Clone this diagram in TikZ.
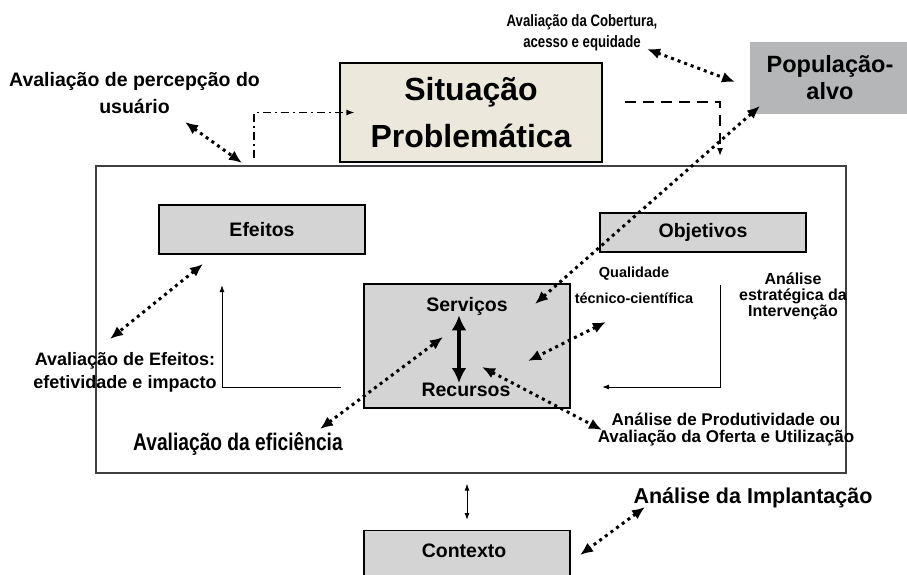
\documentclass[tikz,border=0pt]{standalone}
\usepackage{fontspec}
\setmainfont{Liberation Sans}
\newfontfamily\condfont{Liberation Sans}[FakeStretch=0.8]
\usetikzlibrary{arrows.meta}
\definecolor{sitfill}{RGB}{236,233,220}
\definecolor{popfill}{RGB}{180,182,184}
\definecolor{boxfill}{RGB}{212,212,212}
\newcommand\tightlines{\lineskiplimit=-50pt\relax}

\begin{document}
\begin{tikzpicture}[x=1pt, y=-1pt,
	box/.style={draw, line width=1.2pt, fill=boxfill, inner sep=0pt},
	lbl/.style={inner sep=0pt, font=\bfseries\fontsize{19.5}{23}\selectfont},
	txt/.style={inner sep=0pt, align=center},
	evalarrow/.style={line width=3pt, dash pattern=on 3pt off 4pt,
		{Latex[length=13pt,width=11pt]}-{Latex[length=13pt,width=11pt]}},
	flowarrow/.style={line width=1pt, -{Latex[length=7pt,width=5pt]}},
	dashdotarrow/.style={line width=1.3pt, dash pattern=on 8pt off 4pt on 2pt off 4pt,
		-{Latex[length=8pt,width=6pt]}},
	dasharrow/.style={line width=1.5pt, dash pattern=on 11pt off 7pt,
		-{Latex[length=8pt,width=6pt]}},
	thickarrow/.style={line width=4pt, {Latex[length=15pt,width=15pt]}-{Latex[length=15pt,width=15pt]}}]
	\useasboundingbox (0,0) rectangle (907,575);

	\node[draw=black!75, line width=1.2pt, minimum width=750pt, minimum height=307pt, inner sep=0pt] (frame) at (471,319.5) {};

	\node[box, fill=sitfill, minimum width=262pt, minimum height=99pt, align=center,
		font=\bfseries\fontsize{32}{47}\selectfont] (sit) at (471,112.5) {Situação\\Problemática};
	\node[box, draw=none, fill=popfill, minimum width=160pt, minimum height=72pt, align=center,
		font=\bfseries\fontsize{23.5}{27}\selectfont] (pop) at (830,78) {População-\\alvo};
	\node[box, lbl, minimum width=206pt, minimum height=49pt] (eff) at (262,229.5) {Efeitos};
	\node[box, lbl, minimum width=206pt, minimum height=39pt] (obj) at (703,232.5) {Objetivos};
	\node[box, minimum width=206pt, minimum height=124pt] (serv) at (467,346) {};
	\node[lbl] (servtxt) at (467,306) {Serviços};
	\node[lbl] (rectxt) at (466,390) {Recursos};
	\node[box, minimum width=206pt, minimum height=80pt, anchor=north] (ctx) at (467,530) {};
	\node[lbl] (ctxtxt) at (464,551) {Contexto};

	\node[txt, font=\bfseries\fontsize{19.5}{27}\selectfont] (percep) at (134.5,93) {Avaliação de percepção do\\usuário};
	\node[txt, font=\condfont\bfseries\fontsize{16.5}{21}\selectfont] (cob) at (582,33) {Avaliação da Cobertura,\\acesso e equidade};
	\node[txt, font=\bfseries\fontsize{18}{23.5}\selectfont] (aveff) at (125,372.5) {Avaliação de Efeitos:\\efetividade e impacto};
	\node[txt, font=\condfont\bfseries\fontsize{24}{28}\selectfont] (efic) at (238,444) {Avaliação da eficiência};
	\node[txt, font=\bfseries\fontsize{14.5}{26}\selectfont] (qual) at (634,285.7) {Qualidade\\técnico-científica};
	\node[txt, font=\bfseries\fontsize{16}{16}\selectfont\tightlines] (estr) at (793,296) {Análise\\estratégica da\\Intervenção};
	\node[txt, font=\bfseries\fontsize{17}{16.5}\selectfont\tightlines] (prod) at (726,429.5) {Análise de Produtividade ou\\Avaliação da Oferta e Utilização};
	\node[txt, font=\bfseries\fontsize{21.5}{26}\selectfont] (impl) at (753,498) {Análise da Implantação};

	\coordinate (percepA) at (185,122); \coordinate (percepB) at (242,163);
	\coordinate (cobA) at (647,49); \coordinate (cobB) at (735,82);
	\coordinate (popA) at (760,106); \coordinate (servA) at (535,304);
	\coordinate (effA) at (203,264); \coordinate (effB) at (110,339);
	\coordinate (eficA) at (320,429); \coordinate (eficB) at (443,337);
	\coordinate (qualA) at (606,322); \coordinate (qualB) at (528,361);
	\coordinate (recA) at (482,367); \coordinate (prodA) at (602,430);
	\coordinate (implA) at (645,507); \coordinate (implB) at (580,555);
	\coordinate (problA) at (254,158);
	\coordinate (problB) at (625,102); \coordinate (problC) at (720,156);
	\coordinate (leftA) at (341,387); \coordinate (leftB) at (222,285);
	\coordinate (rightA) at (720,285); \coordinate (rightB) at (602,387);

	\draw[dashdotarrow] (problA) |- ([xshift=15pt]sit.west);
	\draw[dasharrow] (problB) -| (problC);
	\draw[flowarrow] (leftA) -| (leftB);
	\draw[flowarrow] (rightA) |- (rightB);
	\draw[line width=1pt, {Latex[length=7pt,width=5pt]}-{Latex[length=7pt,width=5pt]}, shorten >=10pt, shorten <=10pt] (frame.south -| ctx.north) -- (ctx.north);
	\draw[thickarrow] ([xshift=-8pt]servtxt.south) -- ([xshift=-7pt]rectxt.north);

	\draw[evalarrow] (percepA) -- (percepB);
	\draw[evalarrow] (cobA) -- (cobB);
	\draw[evalarrow] (servA) -- (popA);
	\draw[evalarrow] (effA) -- (effB);
	\draw[evalarrow] (eficA) -- (eficB);
	\draw[evalarrow] (qualA) -- (qualB);
	\draw[evalarrow] (recA) -- (prodA);
	\draw[evalarrow] (implA) -- (implB);
\end{tikzpicture}
\end{document}
